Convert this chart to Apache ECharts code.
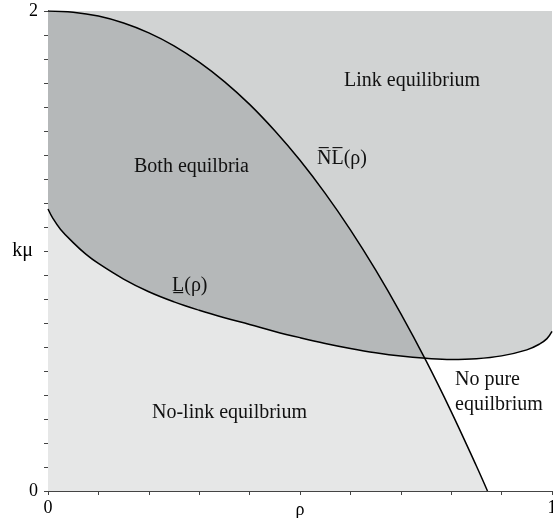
<!DOCTYPE html>
<html>
<head>
<meta charset="utf-8">
<script src="https://cdn.jsdelivr.net/npm/echarts@6/dist/echarts.min.js"></script>
<style>
  html, body { margin: 0; padding: 0; background: #fff; }
  #main { width: 553px; height: 518px; }
</style>
</head>
<body>
<div id="main"></div>
<script>
// upper boundary NL(rho)
var nlRho = [0, 0.05, 0.1, 0.15, 0.2, 0.25, 0.3, 0.35, 0.4, 0.45, 0.5, 0.55, 0.6, 0.65, 0.7, 0.75, 0.8, 0.85, 0.872];
var nlK   = [2.0, 1.995, 1.979, 1.95, 1.909, 1.855, 1.787, 1.706, 1.611, 1.501, 1.378, 1.24, 1.088, 0.921, 0.739, 0.543, 0.331, 0.104, 0];

// lower boundary L(rho)
var lRho = [0, 0.01, 0.025, 0.05, 0.075, 0.1, 0.15, 0.2, 0.25, 0.3, 0.35, 0.4, 0.45, 0.5, 0.55, 0.6, 0.65, 0.7, 0.75, 0.8, 0.85, 0.9, 0.95, 0.975, 0.99, 1.0];
var lK   = [1.175, 1.135, 1.09, 1.035, 0.987, 0.948, 0.883, 0.83, 0.788, 0.753, 0.722, 0.694, 0.665, 0.639, 0.615, 0.594, 0.576, 0.562, 0.553, 0.548, 0.551, 0.563, 0.588, 0.612, 0.635, 0.665];

// where the two curves cross
var crossRho = 0.748;
var crossK = 0.552;

var kMax = 2;
var rhoTicks = ['0', '1'];
var kTicks = ['0', '2'];

var serif = 'Liberation Serif';

function pairs(xs, ys) {
  var out = [];
  for (var i = 0; i < xs.length; i++) out.push([xs[i], ys[i]]);
  return out;
}

var nlData = pairs(nlRho, nlK);
var lData = pairs(lRho, lK);

// lower envelope: L up to the crossing, then NL
var lowData = [];
lData.forEach(function (p) { if (p[0] < crossRho) lowData.push(p); });
lowData.push([crossRho, crossK]);
nlData.forEach(function (p) { if (p[0] > crossRho) lowData.push(p); });

function area(data, color) {
  return {
    type: 'line', data: data, symbol: 'none', silent: true,
    smooth: 0.4,
    lineStyle: { width: 0 },
    areaStyle: { color: color, opacity: 1 }
  };
}
function curve(data) {
  return {
    type: 'line', data: data, symbol: 'none', silent: true,
    smooth: 0.4,
    lineStyle: { color: '#000', width: 1.5 }
  };
}

function label(text, x, y) {
  return {
    type: 'text', left: x, top: y, z: 100,
    style: { text: text, font: '20px "Liberation Serif"', fill: '#111', lineHeight: 25 }
  };
}

var chart = echarts.init(document.getElementById('main'));

chart.setOption({
  animation: false,
  grid: { left: 48, right: 1, top: 11, bottom: 27, outerBoundsMode: 'none' },
  xAxis: [{
    type: 'value', min: 0, max: 1, interval: 0.1,
    name: 'ρ', nameLocation: 'middle', nameGap: 10, nameMoveOverlap: false,
    nameTextStyle: { fontFamily: serif, fontSize: 18, color: '#000' },
    axisLine: { show: true, onZero: false, lineStyle: { color: '#444', width: 1 } },
    axisTick: { show: true, length: 4, lineStyle: { color: '#444' } },
    axisLabel: {
      margin: 8, fontFamily: serif, fontSize: 18, color: '#000',
      formatter: function (v) {
        if (Math.abs(v) < 1e-9) return rhoTicks[0];
        if (Math.abs(v - 1) < 1e-9) return rhoTicks[1];
        return '';
      }
    },
    splitLine: { show: false }
  }, {
    type: 'value', min: 0, max: 1, position: 'top',
    axisLine: { show: true, lineStyle: { color: '#444', width: 1 } },
    axisTick: { show: false }, axisLabel: { show: false }, splitLine: { show: false }
  }],
  yAxis: {
    type: 'value', min: 0, max: kMax, interval: 0.1,
    name: 'kμ', nameLocation: 'middle', nameGap: 15, nameRotate: 0, nameMoveOverlap: false,
    nameTextStyle: { fontFamily: serif, fontSize: 20, color: '#000' },
    axisLine: { show: true, onZero: false, lineStyle: { color: '#444', width: 1 } },
    axisTick: { show: true, length: 4, lineStyle: { color: '#444' } },
    axisLabel: {
      margin: 10, fontFamily: serif, fontSize: 18, color: '#000',
      formatter: function (v) {
        if (Math.abs(v) < 1e-9) return kTicks[0];
        if (Math.abs(v - kMax) < 1e-9) return kTicks[1];
        return '';
      }
    },
    splitLine: { show: false }
  },
  series: [
    area([[0, kMax], [1, kMax]], '#d1d3d3'),
    area(lData, '#ffffff'),
    area(nlData, '#b5b8b9'),
    area(lowData, '#e6e7e7'),
    curve(nlData),
    curve(lData)
  ],
  graphic: [
    label('Link equilibrium', 344, 68),
    label('Both equilbria', 134, 154),
    label('N\u0305L\u0305(ρ)', 317, 146),
    label('L\u0332(ρ)', 172, 273),
    label('No-link equilbrium', 152, 400),
    label('No pure\nequilbrium', 455, 367)
  ]
});
</script>
</body>
</html>
